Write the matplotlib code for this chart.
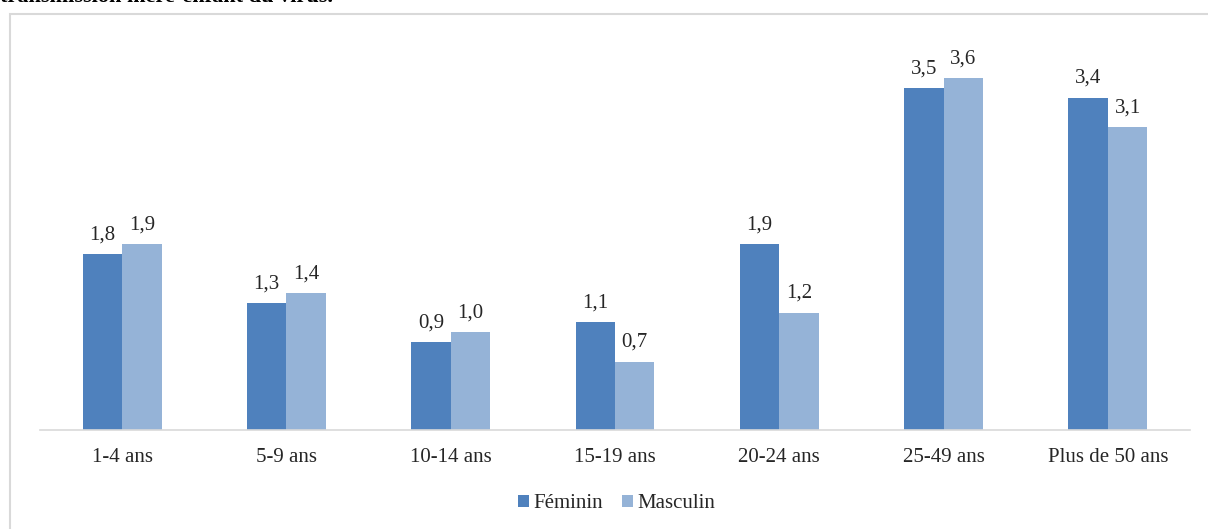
import matplotlib
matplotlib.use("Agg")
import matplotlib.pyplot as plt
from matplotlib.patches import Rectangle
import numpy as np

categories = ["1-4 ans", "5-9 ans", "10-14 ans", "15-19 ans", "20-24 ans", "25-49 ans", "Plus de 50 ans"]
feminin = [1.8, 1.3, 0.9, 1.1, 1.9, 3.5, 3.4]
masculin = [1.9, 1.4, 1.0, 0.7, 1.2, 3.6, 3.1]
series_names = ["Féminin", "Masculin"]

plt.rcParams["font.family"] = ["Liberation Serif", "DejaVu Serif"]

W, H = 1208, 529
fig = plt.figure(figsize=(W / 100, H / 100), dpi=100)

# frame around the chart area
fig.patches.append(Rectangle((10 / W, -0.1), 1.2, 1 - 14 / H + 0.1,
                             transform=fig.transFigure, fill=False,
                             edgecolor="#d9d9d9", linewidth=1.5))

# caption line running above the frame
fig.text(0.0, 1 - 2 / H, "transmission mère-enfant du virus.", ha="left", va="baseline",
         fontsize=16, fontweight="bold", color="#000000")

ax = fig.add_axes([40 / W, 1 - 430 / H, 1150 / W, (430 - 39) / H])

x = np.arange(len(categories))
w = 0.24
b1 = ax.bar(x - w / 2, feminin, w, color="#4F81BD", label=series_names[0])
b2 = ax.bar(x + w / 2, masculin, w, color="#95B3D7", label=series_names[1])

for bars, vals in ((b1, feminin), (b2, masculin)):
    for r, v in zip(bars, vals):
        ax.annotate(f"{v:.1f}".replace(".", ","), (r.get_x() + r.get_width() / 2, v),
                    xytext=(0, 7), textcoords="offset points", ha="center", va="bottom",
                    fontsize=15, color="#262626")

ax.set_xlim(-0.5, len(categories) - 0.5)
ax.set_ylim(0, 4.0)
ax.set_yticks([])
ax.set_xticks(x)
ax.set_xticklabels(categories, fontsize=15, color="#262626")
ax.tick_params(axis="x", length=0, pad=13)
for s in ("top", "right", "left"):
    ax.spines[s].set_visible(False)
ax.spines["bottom"].set_color("#d9d9d9")
ax.spines["bottom"].set_linewidth(1.2)

fig.legend(handles=[b1, b2], loc="center", bbox_to_anchor=(617 / W, 1 - 504 / H), ncol=2,
           frameon=False, fontsize=15, handlelength=0.5, handleheight=0.5,
           handletextpad=0.25, columnspacing=0.9, labelcolor="#262626")

fig.savefig("out.png", dpi=100)
